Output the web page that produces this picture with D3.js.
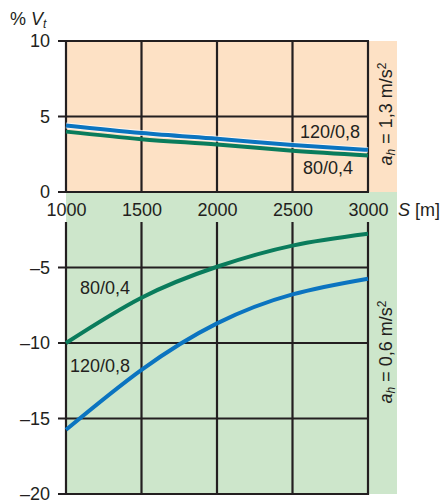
<!DOCTYPE html>
<html>
<head>
<meta charset="utf-8">
<script src="https://cdn.jsdelivr.net/npm/d3@7"></script>
<style>
  body { margin: 0; background: #fff; }
  svg text { font-family: "Liberation Sans", Arial, sans-serif; fill: #231f20; }
</style>
</head>
<body>
<svg width="440" height="501"></svg>
<script>
// distance S [m]
const distances = [1000, 1500, 2000, 2500, 3000]

// a_h = 1,3 m/s2 (upper panel)
const upper120 = [4.4, 3.9, 3.52, 3.12, 2.79]
const upper80 = [4.0, 3.5, 3.14, 2.73, 2.42]

// a_h = 0,6 m/s2 (lower panel)
const lower80 = [-10, -7.0, -4.95, -3.55, -2.77]
const lower120 = [-15.75, -11.78, -8.7, -6.78, -5.74]

const upperTicks = [10, 5, 0]
const lowerTicks = [-5, -10, -15, -20]

const blue = "#0b74c0"
const green = "#0a7c5c"
const ink = "#231f20"
const fs = 18

const svg = d3.select("svg")

const x = d3.scaleLinear().domain([1000, 3000]).range([66, 368])
const y = d3.scaleLinear().domain([-20, 10]).range([494, 41])

const stripRight = 397
const bandBottom = 222 // lower panel grid starts below the S labels

// backgrounds
svg.append("rect")
  .attr("x", x(1000)).attr("y", y(10))
  .attr("width", stripRight - x(1000)).attr("height", y(0) - y(10))
  .attr("fill", "#fde1c5")
svg.append("rect")
  .attr("x", x(1000)).attr("y", y(0))
  .attr("width", stripRight - x(1000)).attr("height", y(-20) - y(0))
  .attr("fill", "#cde6cb")

const grid = svg.append("g")
  .attr("stroke", ink)
  .attr("stroke-width", 2.2)

// horizontal grid lines incl. tick marks
grid.selectAll("line.h")
  .data(upperTicks.concat(lowerTicks))
  .enter()
  .append("line")
  .attr("class", "h")
  .attr("x1", x(1000) - 8)
  .attr("x2", x(3000) + 1)
  .attr("y1", d => y(d))
  .attr("y2", d => y(d))

// vertical lines, upper panel
grid.selectAll("line.vu")
  .data(distances)
  .enter()
  .append("line")
  .attr("class", "vu")
  .attr("x1", d => x(d)).attr("x2", d => x(d))
  .attr("y1", y(10)).attr("y2", y(0))

// vertical lines, lower panel
grid.selectAll("line.vl")
  .data(distances)
  .enter()
  .append("line")
  .attr("class", "vl")
  .attr("x1", d => x(d)).attr("x2", d => x(d))
  .attr("y1", bandBottom).attr("y2", y(-20) + 1)

// y axis labels
const yAxis = svg.append("g")
  .attr("transform", "translate(" + x(1000) + ",0)")
  .call(d3.axisLeft(y)
    .tickValues(upperTicks.concat(lowerTicks))
    .tickSize(0)
    .tickPadding(16)
    .tickFormat(d => d < 0 ? "\u2013" + Math.abs(d) : d))
yAxis.select(".domain").remove()
yAxis.selectAll("text")
  .attr("font-size", fs)
  .attr("font-family", "Liberation Sans, Arial, sans-serif")
  .attr("fill", ink)

// x axis labels
const xAxis = svg.append("g")
  .attr("transform", "translate(0," + y(0) + ")")
  .call(d3.axisBottom(x)
    .tickValues(distances)
    .tickSize(0)
    .tickPadding(11)
    .tickFormat(d3.format("d")))
xAxis.select(".domain").remove()
xAxis.selectAll("text")
  .attr("font-size", fs)
  .attr("font-family", "Liberation Sans, Arial, sans-serif")
  .attr("fill", ink)

// curves
const line = d3.line()
  .x((d, i) => x(distances[i]))
  .y(d => y(d))
  .curve(d3.curveNatural)

const series = [
  { values: upper80, color: green },
  { values: upper120, color: blue, halo: true },
  { values: lower80, color: green },
  { values: lower120, color: blue }
]

series.forEach(s => {
  if (s.halo) {
    svg.append("path")
      .attr("d", line(s.values))
      .attr("fill", "none")
      .attr("stroke", "#ffffff")
      .attr("stroke-opacity", 0.7)
      .attr("stroke-width", 6)
  }
  svg.append("path")
    .attr("d", line(s.values))
    .attr("fill", "none")
    .attr("stroke", s.color)
    .attr("stroke-width", 4)
})

// curve labels
const labels = [
  { text: "120/0,8", x: 300, y: 137.5 },
  { text: "80/0,4", x: 303, y: 174 },
  { text: "80/0,4", x: 80, y: 294 },
  { text: "120/0,8", x: 70, y: 372 }
]
svg.selectAll("text.lab")
  .data(labels)
  .enter()
  .append("text")
  .attr("class", "lab")
  .attr("x", d => d.x)
  .attr("y", d => d.y)
  .attr("font-size", fs)
  .text(d => d.text)

// axis titles
const yTitle = svg.append("text")
  .attr("x", 10).attr("y", 25)
  .attr("font-size", fs)
yTitle.append("tspan").text("% ")
yTitle.append("tspan").attr("font-style", "italic").text("V")
yTitle.append("tspan").attr("font-style", "italic").attr("font-size", 12)
  .attr("dy", 3).text("t")

const xTitle = svg.append("text")
  .attr("x", 398).attr("y", 216)
  .attr("font-size", fs)
xTitle.append("tspan").attr("font-style", "italic").text("S")
xTitle.append("tspan").text(" [m]")

// panel labels on the right strip
function panelLabel(cy, value) {
  const t = svg.append("text")
    .attr("transform", "translate(392," + cy + ") rotate(-90)")
    .attr("text-anchor", "middle")
    .attr("font-size", fs)
  t.append("tspan").attr("font-style", "italic").text("a")
  t.append("tspan").attr("font-style", "italic").attr("font-size", 12)
    .attr("dy", 3).text("h")
  t.append("tspan").attr("dy", -3).text(" = " + value + " m/s")
  t.append("tspan").attr("font-size", 12).attr("dy", -6).text("2")
}
panelLabel(114, "1,3")
panelLabel(352, "0,6")
</script>
</body>
</html>
